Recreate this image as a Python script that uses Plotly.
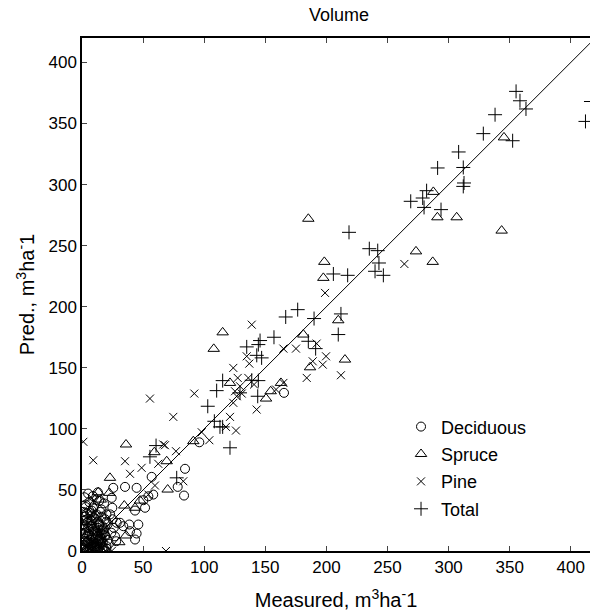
import plotly.graph_objects as go

# Deciduous (circles)
dec_x = [165.3, 96.0, 84.3, 78.3, 83.5, 57.0, 58.3, 54.3, 50.2, 44.7, 35.2, 25.6, 24.3, 24.8,
         43.4, 51.6, 31.1, 28.4, 33.8, 38.7, 46.1, 39.3, 44.7, 43.4,
         2, 4, 6, 8, 10, 12, 14, 16, 18, 20, 22, 3, 5, 7, 9, 11, 13, 15, 17, 19, 21,
         1, 3, 6, 9, 12, 15, 18, 2, 5, 8, 11, 14, 17, 20, 4, 7, 10, 13, 16, 19,
         1, 4, 8, 12, 16, 3, 6, 10, 14, 18, 23, 25, 27, 2, 5, 9, 13,
         1, 2, 3, 4, 5, 6, 7, 8, 9, 10, 11, 12, 13, 14, 15, 16, 17,
         1, 2, 4, 5, 7, 8, 10, 11, 13, 14, 16, 17, 19, 20,
         2, 3, 5, 6, 8, 9, 11, 12, 15, 18, 21, 24, 26, 28,
         1, 3, 5, 7, 9, 11, 13, 15, 17, 19, 6, 10, 14, 4, 8, 12, 16, 20, 2, 7]
dec_y = [129.5, 89.0, 67.3, 52.5, 45.4, 60.7, 46.2, 44.8, 41.6, 51.7, 52.5, 51.7, 43.5, 35.4,
         33.1, 35.4, 23.1, 23.1, 20.3, 21.7, 21.7, 16.2, 14.3, 9.4,
         2, 1, 3, 2, 4, 1, 3, 5, 2, 4, 6, 8, 7, 9, 6, 10, 8, 11, 7, 12, 9,
         14, 15, 13, 16, 14, 17, 15, 20, 19, 21, 18, 22, 20, 24, 26, 25, 27, 24, 28, 26,
         32, 31, 33, 30, 34, 38, 40, 37, 41, 39, 30, 26, 12, 44, 47, 45, 48,
         5, 10, 4, 12, 8, 16, 5, 11, 18, 7, 13, 4, 19, 10, 6, 14, 3,
         22, 18, 23, 14, 20, 25, 16, 29, 12, 21, 10, 17, 13, 30,
         28, 36, 24, 33, 29, 35, 26, 42, 32, 18, 22, 15, 19, 8,
         1, 0, 2, 1, 0, 2, 1, 0, 1, 0, 6, 3, 9, 7, 4, 6, 9, 2, 25, 31]

# Spruce (triangles)
spr_x = [185.2, 198.3, 197.5, 287.5, 345.3, 290.8, 306.6, 343.4, 273.3, 287.0, 209.7, 181.1,
         115.1, 107.8, 215.2, 186.6, 121.1, 162.8, 154.4, 150.6, 91.1, 36.0, 59.2, 69.3, 22.9,
         70.1, 13.3, 15.3, 22.3, 34.6, 43.4, 47.5, 36.0, 30.5]
spr_y = [272.0, 236.7, 223.6, 294.0, 338.6, 273.2, 273.2, 262.3, 245.3, 236.7, 188.9, 177.2,
         179.0, 165.5, 156.7, 150.4, 137.6, 137.6, 130.8, 124.8, 89.9, 87.2, 80.9, 73.5, 59.9,
         50.3, 48.1, 42.1, 47.6, 37.2, 35.4, 41.3, 12.7, 7.2]

# Pine (x)
pin_x = [263.8, 198.9, 138.9, 192.0, 134.8, 136.9, 175.1, 164.8, 199.7, 188.8, 197.0, 123.8,
         211.9, 183.9, 127.4, 136.1, 140.8, 129.3, 164.8, 158.8, 91.9, 125.2, 130.7, 126.6,
         123.8, 142.9, 74.7, 121.1, 117.8, 126.0, 98.0, 104.2, 66.5, 55.6, 1.1, 9.2, 35.2,
         67.9, 76.9, 62.4, 48.8, 39.3, 82.9, 59.7, 7.9, 54.3, 24.3, 68.7]
pin_y = [235.0, 211.3, 185.3, 169.8, 159.4, 153.4, 165.7, 165.7, 159.4, 155.3, 152.6, 149.9,
         143.9, 141.7, 141.7, 141.7, 136.3, 134.9, 137.6, 132.2, 128.9, 130.8, 128.9, 126.7,
         121.3, 115.8, 109.8, 109.8, 101.6, 98.6, 97.2, 90.7, 87.2, 124.8, 89.4, 74.3, 73.5,
         86.6, 81.7, 71.4, 68.1, 63.2, 57.1, 53.6, 43.5, 46.2, 0.0, 0.0]

# Total (+)
tot_x = [355.2, 358.4, 363.3, 338.0, 328.4, 352.4, 308.2, 291.0, 312.0, 312.6, 312.0, 282.0,
         278.8, 269.0, 279.9, 293.8, 218.5, 235.1, 242.0, 243.0, 205.7, 217.4, 239.8, 246.6,
         412.0, 416.5, 176.5, 166.7, 189.9, 211.9, 209.7, 157.1, 185.2, 191.2, 145.7, 144.3,
         134.8, 143.0, 147.0, 115.1, 138.9, 144.3, 110.2, 129.3, 143.8, 102.9, 108.3, 112.9,
         115.1, 121.1, 60.6, 55.6, 77.5]
tot_y = [376.3, 368.6, 361.9, 357.2, 341.7, 335.9, 326.7, 313.6, 314.0, 301.3, 298.5, 295.0,
         289.0, 286.3, 281.3, 279.5, 260.9, 247.5, 245.9, 235.8, 226.8, 225.7, 229.0, 225.7,
         351.7, 368.0, 197.6, 191.6, 190.3, 194.1, 177.2, 175.0, 171.7, 165.7, 172.3, 169.0,
         167.1, 160.2, 158.1, 139.5, 139.8, 139.5, 131.3, 129.5, 126.7, 118.5, 106.2, 101.6,
         101.6, 84.5, 86.3, 77.1, 59.9]

one_to_one = [0, 420]

fig = go.Figure()
mk = dict(color="black", line=dict(color="black", width=1))
fig.add_trace(go.Scatter(x=dec_x, y=dec_y, mode="markers", name="Deciduous", legendgroup="d",
                         marker=dict(symbol="circle-open", size=9, **mk)))
fig.add_trace(go.Scatter(x=spr_x, y=spr_y, mode="markers", name="Spruce", legendgroup="s",
                         marker=dict(symbol="triangle-up-open", size=10, **mk)))
fig.add_trace(go.Scatter(x=pin_x, y=pin_y, mode="markers", name="Pine", legendgroup="p",
                         marker=dict(symbol="x-thin-open", size=8, **mk)))
fig.add_trace(go.Scatter(x=tot_x, y=tot_y, mode="markers", name="Total", legendgroup="t",
                         marker=dict(symbol="cross-thin-open", size=10, **mk)))
fig.add_trace(go.Scatter(x=one_to_one, y=one_to_one, mode="lines", showlegend=False,
                         line=dict(color="black", width=1)))

W, H = 590, 611
font = "Liberation Sans, Arial, sans-serif"
fig.update_layout(
    width=W, height=H,
    margin=dict(l=82, r=0, t=38, b=60),
    paper_bgcolor="white", plot_bgcolor="white",
    font=dict(family=font, size=17, color="black"),
    title=dict(text="Volume", x=339/W, xref="container", xanchor="center",
               y=1 - 15/H, yref="container", yanchor="middle",
               font=dict(size=18)),
    showlegend=True,
    legend=dict(x=0.628, y=0.278, xanchor="left", yanchor="top", tracegroupgap=1,
                bgcolor="rgba(255,255,255,0)", font=dict(size=18), itemsizing="trace"),
)
fig.update_xaxes(range=[0, 415.7], dtick=50, tick0=0, ticks="inside", ticklen=5,
                 showline=True, linecolor="black", linewidth=1.5, mirror="ticks",
                 showgrid=False, zeroline=False, automargin=False,
                 title=dict(text="Measured, m<sup>3</sup>ha<sup>-</sup>1", standoff=17))
fig.update_yaxes(range=[0, 420], dtick=50, tick0=0, ticks="inside", ticklen=5,
                 showline=True, linecolor="black", linewidth=1.5, mirror=False,
                 showgrid=False, zeroline=False, automargin=False,
                 title=dict(text="Pred., m<sup>3</sup>ha<sup>-</sup>1", standoff=8))

# drop the default page margin so the figure sits at the window's corner
fig.write_html("out.html", config={"displayModeBar": False},
               post_script="document.body.style.margin='0';document.body.style.overflow='hidden';")
